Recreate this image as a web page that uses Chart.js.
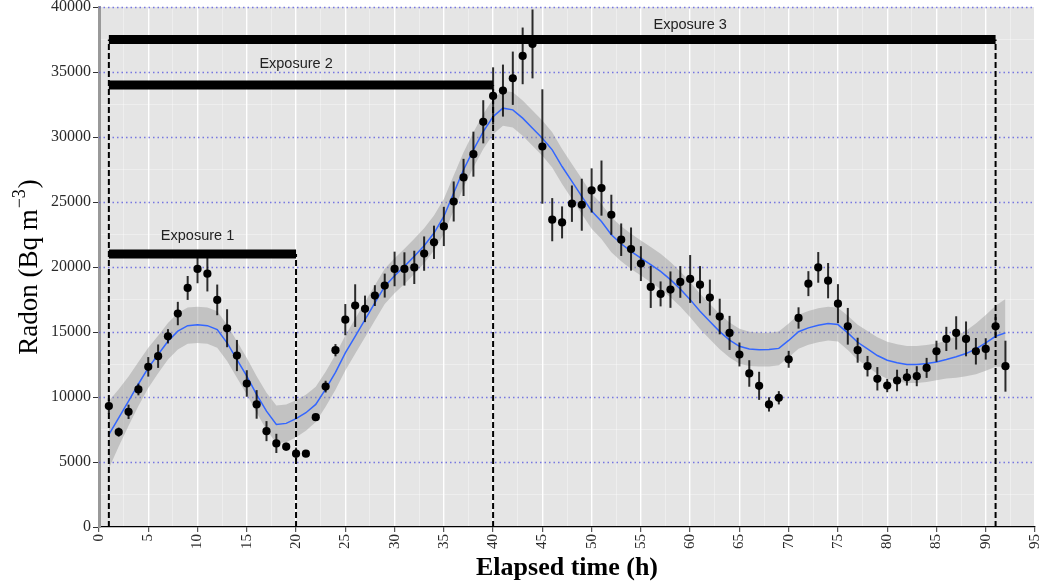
<!DOCTYPE html>
<html><head><meta charset="utf-8">
<script src="https://cdn.jsdelivr.net/npm/chart.js@4.4.1/dist/chart.umd.min.js"></script>
<style>html,body{margin:0;padding:0;background:#fff}#wrap{width:1042px;height:584px}</style>
</head><body><div id="wrap"><canvas id="c" width="1042" height="584"></canvas></div>
<script>
// ---- data ----
const hours = [1,2,3,4,5,6,7,8,9,10,11,12,13,14,15,16,17,18,19,20,21,22,23,24,25,26,27,28,29,30,
  31,32,33,34,35,36,37,38,39,40,41,42,43,44,45,46,47,48,49,50,51,52,53,54,55,56,57,58,59,60,
  61,62,63,64,65,66,67,68,69,70,71,72,73,74,75,76,77,78,79,80,81,82,83,84,85,86,87,88,89,90,91,92];
const radon = [9300,7300,8860,10580,12320,13140,14670,16420,18390,19850,19490,17470,15290,13190,11040,9430,7375,6430,6180,5640,
  5640,8450,10800,13600,15950,17030,16780,17800,18570,19850,19850,19970,21030,21900,23120,25040,26890,28680,31170,33160,
  33570,34520,36240,37160,29270,23640,23430,24870,24790,25890,26070,24020,22100,21380,20260,18470,17930,18260,18850,19080,
  18640,17650,16190,14930,13270,11810,10860,9430,9940,12900,16080,18720,19970,18950,17180,15440,13600,12370,11400,10880,
  11270,11520,11600,12240,13520,14470,14930,14470,13520,13700,15440,12370];
const radonErr = [600,350,550,450,750,900,550,900,920,1100,1370,1180,1460,1200,1020,1100,770,740,300,470,
  250,250,450,470,1200,1640,1020,800,920,1330,1280,1280,1320,1280,1510,1540,1430,1730,1660,2200,
  2000,2050,2180,2650,4400,1660,1230,1400,2000,1700,2120,1540,1250,1660,1340,1620,960,1400,1220,1840,
  1430,1380,1370,1310,920,1020,1080,550,510,650,820,960,1180,1360,1500,1410,960,790,900,510,
  830,640,770,770,810,930,1280,1340,1020,820,700,1960];
const fitValues = [7100,8400,9680,11000,12240,13270,14290,15060,15490,15550,15490,15190,14160,12880,11600,10190,8910,7890,7970,8330,
  8790,9430,10600,11900,13390,14670,15950,17240,18510,19330,20050,20820,21640,22610,23890,25690,27480,29010,30420,31570,
  32220,32090,31450,30680,29910,29010,27730,26580,25430,24300,23500,22480,21790,21200,20690,20180,19660,19030,18310,17490,
  16590,15800,15030,14380,13900,13700,13640,13650,13740,14350,15020,15320,15520,15650,15570,14930,14210,13700,13190,12830,
  12630,12500,12500,12580,12700,12880,13090,13340,13700,14160,14670,14930];
const fitSE = [2600,2200,1900,1700,1550,1450,1400,1400,1400,1400,1400,1400,1400,1400,1400,1400,1420,1450,1450,1420,
  1380,1350,1350,1350,1350,1350,1350,1350,1350,1350,1350,1350,1350,1350,1350,1350,1350,1350,1350,1350,
  1350,1350,1350,1350,1350,1350,1350,1350,1350,1350,1350,1350,1350,1350,1350,1350,1350,1350,1350,1350,
  1350,1350,1350,1350,1350,1320,1300,1300,1300,1300,1300,1300,1300,1300,1300,1320,1350,1380,1400,1420,
  1420,1420,1420,1420,1420,1450,1600,1750,1950,2150,2350,2600];
const exposureLabels = ['Exposure 1','Exposure 2','Exposure 3'];
const exposureStart = [1,1,1];
const exposureEnd = [20,40,91];
const exposureLevel = [21000,34000,37500];
const exposureLabelX = [10,20,60];
const exposureLabelY = [22400,35650,38600];
const xMin = 0, xMax = 95, xStep = 5;
const yMin = 0, yMax = 40000, yStep = 5000;
const xTitle = 'Elapsed time (h)';
const yTitleMain = 'Radon (Bq m';
const yTitleSup = '\u22123';
const yTitleEnd = ')';

// ---- datasets ----
const pts = hours.map((h,i)=>({x:h,y:radon[i]}));
const fitPts = hours.map((h,i)=>({x:h,y:fitValues[i]}));
const upPts = hours.map((h,i)=>({x:h,y:fitValues[i]+fitSE[i]}));
const loPts = hours.map((h,i)=>({x:h,y:fitValues[i]-fitSE[i]}));

const datasets = [];
datasets.push({label:'obs', data:pts, showLine:false, pointRadius:4.1, pointHoverRadius:4.1,
  pointBackgroundColor:'#000', pointBorderWidth:0, order:0});
exposureLabels.forEach((l,i)=>{
  datasets.push({label:l, data:[{x:exposureStart[i],y:exposureLevel[i]},{x:exposureEnd[i],y:exposureLevel[i]}],
    borderColor:'#000', borderWidth:9, borderCapStyle:'butt', pointRadius:0, fill:false, order:1});
});
const dashX = [], dashTop = [];
const startSet = [...new Set(exposureStart)];
startSet.forEach(s=>{ let m=0; exposureStart.forEach((v,i)=>{ if(v===s) m=Math.max(m,exposureLevel[i]); }); dashX.push(s); dashTop.push(m); });
exposureEnd.forEach((e,i)=>{ dashX.push(e); dashTop.push(exposureLevel[i]); });
dashX.forEach((x,i)=>{
  datasets.push({label:'d'+i, data:[{x:x,y:0},{x:x,y:dashTop[i]}], borderColor:'#000', borderWidth:2,
    borderDash:[6,3], pointRadius:0, fill:false, order:2});
});
datasets.push({label:'fit', data:fitPts, borderColor:'#3366FF', borderWidth:1.5, pointRadius:0, fill:false, tension:0, order:3});
datasets.push({label:'up', data:upPts, borderWidth:0, borderColor:'rgba(0,0,0,0)', pointRadius:0, fill:'+1',
  backgroundColor:'rgba(150,150,150,0.45)', tension:0, order:4});
datasets.push({label:'lo', data:loPts, borderWidth:0, borderColor:'rgba(0,0,0,0)', pointRadius:0, fill:false, tension:0, order:5});

// ---- plugins ----
const panelBg = {
  id:'panelBg',
  beforeDraw(chart){
    const {ctx, chartArea:a} = chart;
    ctx.save(); ctx.fillStyle='#E5E5E5'; ctx.fillRect(a.left,a.top,a.right-a.left,a.bottom-a.top); ctx.restore();
  }
};
const dottedGrid = {
  id:'dottedGrid',
  beforeDatasetsDraw(chart){
    const {ctx, chartArea:a, scales} = chart;
    ctx.save();
    ctx.strokeStyle='rgba(100,100,225,0.85)'; ctx.lineWidth=1.5; ctx.setLineDash([1.5,3]);
    for(let v=yMin+yStep; v<=yMax; v+=yStep){
      const y = Math.round(scales.y.getPixelForValue(v))+0.5;
      ctx.beginPath(); ctx.moveTo(a.left,y); ctx.lineTo(a.right,y); ctx.stroke();
    }
    ctx.restore();
  }
};
const errorBars = {
  id:'errorBars',
  beforeDatasetDraw(chart,args){
    if(args.index!==0) return;
    const {ctx, chartArea:a, scales} = chart;
    ctx.save();
    ctx.beginPath(); ctx.rect(a.left,a.top,a.right-a.left,a.bottom-a.top); ctx.clip();
    ctx.strokeStyle='rgba(0,0,0,0.82)'; ctx.lineWidth=2;
    hours.forEach((h,i)=>{
      const x = scales.x.getPixelForValue(h);
      ctx.beginPath();
      ctx.moveTo(x, scales.y.getPixelForValue(radon[i]-radonErr[i]));
      ctx.lineTo(x, scales.y.getPixelForValue(radon[i]+radonErr[i]));
      ctx.stroke();
    });
    ctx.restore();
  }
};
const texts = {
  id:'texts',
  afterDatasetsDraw(chart){
    const {ctx, scales} = chart;
    ctx.save();
    ctx.fillStyle='#222'; ctx.font='14.5px "Liberation Sans", Arial, sans-serif';
    ctx.textAlign='center'; ctx.textBaseline='middle';
    exposureLabels.forEach((l,i)=>{
      ctx.fillText(l, scales.x.getPixelForValue(exposureLabelX[i]), scales.y.getPixelForValue(exposureLabelY[i]));
    });
    ctx.restore();
  },
  afterDraw(chart){
    const {ctx, chartArea:a} = chart;
    ctx.save();
    ctx.fillStyle='#000';
    ctx.font='bold 26px "Liberation Serif", "Times New Roman", serif';
    ctx.textAlign='center'; ctx.textBaseline='middle';
    ctx.fillText(xTitle, (a.left+a.right)/2, 568);
    ctx.translate(28, (a.top+a.bottom)/2);
    ctx.rotate(-Math.PI/2);
    const f1='27px "Liberation Serif", "Times New Roman", serif';
    const f2='18px "Liberation Serif", "Times New Roman", serif';
    ctx.font=f1; const w1=ctx.measureText(yTitleMain).width; const w3=ctx.measureText(yTitleEnd).width;
    ctx.font=f2; const w2=ctx.measureText(yTitleSup).width;
    let x0 = -(w1+w2+w3+2)/2;
    ctx.textAlign='left'; ctx.textBaseline='alphabetic';
    ctx.font=f1; ctx.fillText(yTitleMain, x0, 9);
    ctx.font=f2; ctx.fillText(yTitleSup, x0+w1+1, -3);
    ctx.font=f1; ctx.fillText(yTitleEnd, x0+w1+w2+2, 9);
    ctx.restore();
  }
};

const isMajor = (v, step) => Math.abs(v/step - Math.round(v/step)) < 1e-6;

new Chart(document.getElementById('c'), {
  type:'line',
  data:{datasets},
  options:{
    responsive:false, animation:false, devicePixelRatio:1,
    layout:{padding:{left:0,right:7,top:7,bottom:0}},
    plugins:{legend:{display:false}, tooltip:{enabled:false}},
    scales:{
      x:{type:'linear', min:xMin, max:xMax,
        afterFit(s){ s.height = 57; s.paddingLeft = 0; s.paddingRight = 0; },
        ticks:{stepSize:xStep/2, autoSkip:false, minRotation:90, maxRotation:90, padding:2,
          color:'#2a2a2a', font:{family:'"Liberation Serif", "Times New Roman", serif', size:15},
          callback:(v)=> isMajor(v,xStep) ? String(v) : ''},
        grid:{
          color:(c)=> (c.tick && isMajor(c.tick.value,xStep)) ? '#FFFFFF' : 'rgba(255,255,255,0.5)',
          lineWidth:(c)=> (c.tick && isMajor(c.tick.value,xStep)) ? 1.4 : 0.7,
          tickColor:(c)=> (c.tick && isMajor(c.tick.value,xStep)) ? '#333' : 'rgba(0,0,0,0)',
          tickLength:5, tickWidth:1},
        border:{color:'#000', width:1.3}
      },
      y:{type:'linear', min:yMin, max:yMax,
        afterFit(s){ s.width = 99; s.paddingTop = 0; s.paddingBottom = 0; },
        ticks:{stepSize:yStep/2, autoSkip:false, padding:2,
          color:'#2a2a2a', font:{family:'"Liberation Serif", "Times New Roman", serif', size:16},
          callback:(v)=> isMajor(v,yStep) ? String(v) : ''},
        grid:{
          color:(c)=> (c.tick && isMajor(c.tick.value,yStep)) ? 'rgba(0,0,0,0)' : 'rgba(255,255,255,0.5)',
          lineWidth:(c)=> (c.tick && isMajor(c.tick.value,yStep)) ? 1 : 0.7,
          tickColor:(c)=> (c.tick && isMajor(c.tick.value,yStep)) ? '#333' : 'rgba(0,0,0,0)',
          tickLength:6, tickWidth:1},
        border:{color:'#999', width:3}
      }
    }
  },
  plugins:[panelBg, dottedGrid, errorBars, texts]
});
</script>
</body></html>
